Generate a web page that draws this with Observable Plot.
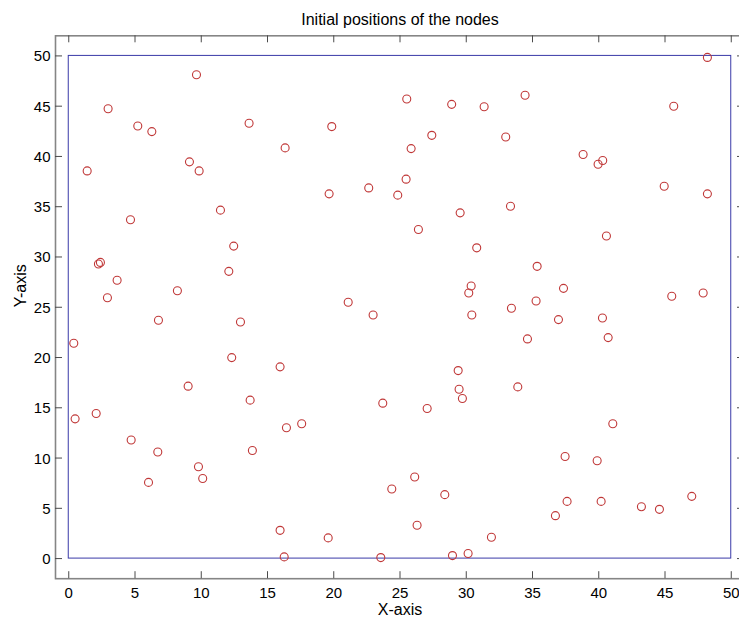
<!DOCTYPE html>
<html>
<head>
<meta charset="utf-8">
<script src="https://cdn.jsdelivr.net/npm/d3@7"></script>
<script src="https://cdn.jsdelivr.net/npm/@observablehq/plot@0.6"></script>
<style>
  html, body { margin: 0; padding: 0; background: #fff; overflow: hidden; }
  #chart svg { display: block; }
</style>
</head>
<body>
<div id="chart"></div>
<script>
const title = "Initial positions of the nodes";
const xLabel = "X-axis";
const yLabel = "Y-axis";
const xTicks = [0, 5, 10, 15, 20, 25, 30, 35, 40, 45, 50];
const yTicks = [0, 5, 10, 15, 20, 25, 30, 35, 40, 45, 50];
const fieldBounds = [{x1: 0, x2: 50, y1: 0, y2: 50}];

const nodeX = [
  1.39, 2.97, 5.21, 6.27, 9.64, 9.11, 9.84, 13.61, 16.33, 19.85,
  19.65, 22.64, 4.66, 11.45, 12.45, 12.08, 2.24, 2.39, 3.65, 2.92,
  8.20, 21.09, 48.20, 25.51, 28.90, 31.35, 34.44, 45.66, 27.40, 32.98,
  25.84, 38.82, 39.95, 40.30, 25.46, 24.83, 44.94, 48.20, 29.54, 33.34,
  26.39, 40.58, 30.79, 35.35, 30.37, 30.19, 37.34, 45.51, 47.88, 35.27,
  33.41, 0.38, 6.77, 12.96, 12.30, 15.95, 9.01, 13.69, 0.48, 2.07,
  17.58, 16.43, 4.71, 6.72, 13.86, 9.79, 10.11, 6.02, 15.95, 19.58,
  16.26, 22.97, 23.70, 30.42, 36.96, 40.28, 34.62, 40.71, 29.39, 29.46,
  29.71, 33.89, 27.05, 41.06, 37.46, 39.88, 26.11, 24.38, 28.38, 37.61,
  40.18, 47.02, 43.22, 44.58, 36.73, 26.29, 31.90, 28.96, 30.14, 23.55
];
const nodeY = [
  38.56, 44.75, 43.03, 42.47, 48.13, 39.46, 38.56, 43.30, 40.85, 42.97,
  36.28, 36.87, 33.70, 34.66, 31.08, 28.57, 29.30, 29.46, 27.68, 25.95,
  26.64, 25.49, 49.85, 45.71, 45.18, 44.95, 46.08, 44.99, 42.10, 41.94,
  40.78, 40.19, 39.23, 39.59, 37.74, 36.15, 37.04, 36.28, 34.39, 35.05,
  32.74, 32.08, 30.91, 29.07, 27.11, 26.42, 26.88, 26.09, 26.42, 25.62,
  24.90, 21.42, 23.70, 23.53, 19.99, 19.07, 17.15, 15.76, 13.90, 14.43,
  13.41, 13.01, 11.79, 10.60, 10.75, 9.14, 7.97, 7.58, 2.81, 2.06,
  0.17, 24.23, 15.46, 24.23, 23.77, 23.93, 21.85, 21.98, 18.70, 16.85,
  15.92, 17.08, 14.93, 13.41, 10.16, 9.73, 8.11, 6.92, 6.36, 5.69,
  5.69, 6.19, 5.16, 4.90, 4.27, 3.31, 2.12, 0.30, 0.50, 0.10
];
const nodes = nodeX.map((x, i) => ({x, y: nodeY[i]}));

const font = "'Liberation Sans', Arial, Helvetica, sans-serif";
const W = 739, H = 619;
const mL = 55, mR = -5, mT = 35.3, mB = 40.8;
const plotW = W - mL - mR;
const plotH = H - mT - mB;
const tickLen = 7;
const axisColor = "#858585";
const tickColor = "#4a4a4a";

const chart = Plot.plot({
  width: W,
  height: H,
  marginLeft: mL,
  marginRight: mR,
  marginTop: mT,
  marginBottom: mB,
  x: {domain: [-1, 51], axis: null},
  y: {domain: [-2, 52], axis: null},
  style: {fontFamily: font, background: "#fff", overflow: "hidden", color: "#000"},
  marks: [
    Plot.rect(fieldBounds, {x1: "x1", x2: "x2", y1: "y1", y2: "y2", fill: "none", stroke: "#3a3aa8", strokeWidth: 1}),
    Plot.dot(nodes, {x: "x", y: "y", r: 4, stroke: "#c03838", strokeWidth: 1.1, fill: "none"}),
    Plot.frame({stroke: axisColor, strokeWidth: 1.6}),
    // inward ticks on all four sides
    Plot.ruleX(xTicks, {x: d => d, insetTop: plotH - tickLen, stroke: tickColor, strokeWidth: 1}),
    Plot.ruleX(xTicks, {x: d => d, insetBottom: plotH - tickLen, stroke: tickColor, strokeWidth: 1}),
    Plot.ruleY(yTicks, {y: d => d, insetRight: plotW - tickLen, stroke: tickColor, strokeWidth: 1}),
    Plot.ruleY(yTicks, {y: d => d, insetLeft: plotW - tickLen, stroke: tickColor, strokeWidth: 1}),
    // tick labels
    Plot.text(xTicks, {x: d => d, text: d => String(d), frameAnchor: "bottom", lineAnchor: "bottom", dy: 19.5, fontSize: 15, fill: "#000"}),
    Plot.text(yTicks, {y: d => d, text: d => String(d), frameAnchor: "left", textAnchor: "end", lineAnchor: "bottom", dx: -5, dy: 5.5, fontSize: 15, fill: "#000"}),
    // title and axis labels
    Plot.text([title], {text: d => d, frameAnchor: "top", lineAnchor: "bottom", dy: -11.3, fontSize: 16, fill: "#000"}),
    Plot.text([xLabel], {text: d => d, frameAnchor: "bottom", lineAnchor: "bottom", dy: 36.5, fontSize: 16, fill: "#000"}),
    Plot.text([yLabel], {text: d => d, frameAnchor: "left", rotate: -90, lineAnchor: "bottom", dx: -30, fontSize: 16, fill: "#000"})
  ]
});
document.getElementById("chart").appendChild(chart);
</script>
</body>
</html>
